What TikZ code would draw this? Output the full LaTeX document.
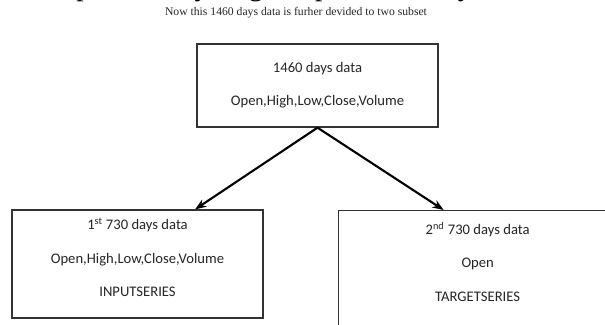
\documentclass[tikz,border=0pt]{standalone}
\usepackage{fontspec}
\setmainfont{Liberation Serif}
\newfontfamily\boxfont{Carlito}
\usepackage{xcolor}
\usetikzlibrary{arrows.meta, positioning}

\begin{document}
\begin{tikzpicture}[
  x=0.025cm, y=-0.025cm,
  box/.style={rectangle, draw=black!80, line width=0.9pt, fill=white, align=center, font=\boxfont\fontsize{10.4}{12.5}\selectfont, text=black!85},
  arrow/.style={line width=1.5pt, -{Stealth[length=8pt, width=6pt]}}
]
\useasboundingbox (0,0) rectangle (605,324);

% Cut-off line of the page above
\node (pagetext) [anchor=base west, font=\fontsize{21}{24}\selectfont, inner sep=0pt] at (-14,-5) {ons for persistency 2. good predictability.};

% Heading
\node (heading) [font=\fontsize{8.3}{10}\selectfont, text=black!85] at (296,13) {Now this 1460 days data is furher devided to two subset};

% Boxes
\node (whole) [box, minimum width=6.025cm, minimum height=2.075cm] at (317.5,85.5) {1460 days data\\[0.38cm]Open,High,Low,Close,Volume};
\node (first) [box, minimum width=6.275cm, minimum height=2.7cm] at (137.5,264) {1\textsuperscript{st} 730 days data\\[0.4cm]Open,High,Low,Close,Volume\\[0.4cm]INPUTSERIES\\[-0.1cm]\mbox{}};
\node (second) [box, minimum width=6.95cm, minimum height=3.4cm, anchor=north west] at (338,210) {2\textsuperscript{nd} 730 days data\\[0.4cm]Open\\[0.4cm]TARGETSERIES\\[0.4cm]\mbox{}};

% Arrows
\draw [arrow] (whole.south) -- ([xshift=1.44cm]first.north);
\draw [arrow] (whole.south) -- ([xshift=-0.85cm]second.north);
\end{tikzpicture}
\end{document}
